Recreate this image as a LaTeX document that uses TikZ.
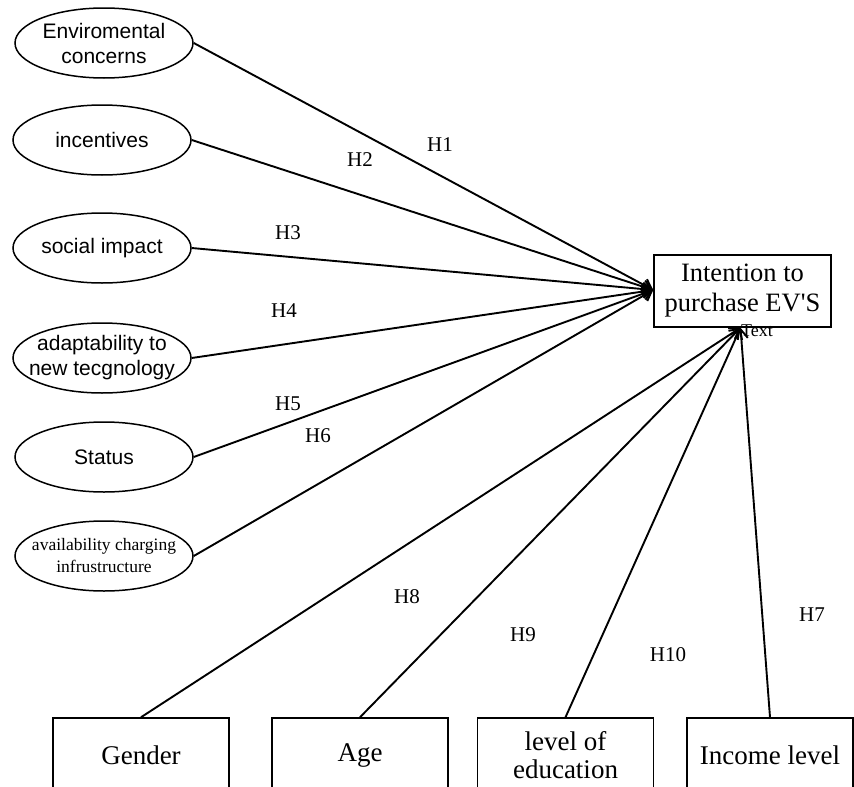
\documentclass[tikz,border=0pt]{standalone}
\usepackage{fontspec}
\setmainfont{Liberation Serif}
\setsansfont{Liberation Sans}
\usetikzlibrary{shapes.geometric,arrows.meta}

% zero-width centred line, so the ellipse keeps its set size
\newcommand{\zline}[1]{\makebox[0pt][c]{#1}}

\tikzset{
  construct/.style={draw, ellipse, line width=1.5pt, minimum width=178pt, minimum height=70pt,
    inner sep=0pt, align=center, font=\sffamily\fontsize{21}{25}\selectfont},
  varbox/.style={draw, rectangle, line width=1.5pt, minimum width=176pt, minimum height=74pt,
    inner sep=0pt, align=center, font=\fontsize{27}{28}\selectfont},
  outcome/.style={draw, rectangle, line width=1.5pt, minimum width=177pt, minimum height=72pt,
    inner sep=0pt, align=center, font=\fontsize{26.5}{30}\selectfont},
  hyp/.style={font=\fontsize{21}{21}\selectfont, inner sep=0pt},
  path/.style={line width=1.9pt, -{Straight Barb[length=9pt,width=13pt,line width=1.9pt]}}
}

\begin{document}
\begin{tikzpicture}[x=1pt, y=-1pt]
\useasboundingbox (0,0) rectangle (854,787);
\fill[white] (0,0) rectangle (854,787);
\clip (0,0) rectangle (854,787);

% outcome construct
\node[outcome] (t) at (742.5,291) {Intention to\\purchase EV\textquotesingle S};
\node[font=\fontsize{18}{18}\selectfont, inner sep=0pt] (txt) at (757,331) {Text};

% predictors
\node[construct] (env) at (104,43) {\zline{Enviromental}\\\zline{concerns}};
\node[construct] (inc) at (102,140) {incentives};
\node[construct] (soc) at (102,248) {social impact};
\node[construct] (ada) at (102,358) {\zline{adaptability to}\\\zline{new tecgnology}};
\node[construct] (sta) at (104,457) {Status};
\node[construct, font=\fontsize{17.5}{22}\selectfont] (ava) at (104,556)
  {\zline{availability charging}\\\zline{infrustructure}};

% demographic variables
\node[varbox] (gen) at (141,755) {Gender};
\node[varbox] (age) at (360,755) {Age};
\node[varbox] (edu) at (565.5,755) {level of\\education};
\node[varbox, minimum width=166pt] (incl) at (770,755) {Income level};

% hypothesised paths
\coordinate (tin) at ([yshift=1pt]t.west);
\coordinate (tbot) at ([xshift=-2pt]t.south);
\draw[path] (env.east) -- (tin);
\draw[path] (inc.east) -- (tin);
\draw[path] (soc.east) -- (tin);
\draw[path] (ada.east) -- (tin);
\draw[path] (sta.east) -- (tin);
\draw[path] (ava.east) -- (tin);
\draw[path] (gen.north) -- (tbot);
\draw[path] (age.north) -- (tbot);
\draw[path] (edu.north) -- (tbot);
\draw[path] (incl.north) -- (tbot);

% path labels
\node[hyp] (h1) at (440,145) {H1};
\node[hyp] (h2) at (360,160) {H2};
\node[hyp] (h3) at (288,233) {H3};
\node[hyp] (h4) at (284,311) {H4};
\node[hyp] (h5) at (288,404) {H5};
\node[hyp] (h6) at (318,436) {H6};
\node[hyp] (h8) at (407,597) {H8};
\node[hyp] (h9) at (523,635) {H9};
\node[hyp] (h10) at (668,655) {H10};
\node[hyp] (h7) at (812,615) {H7};
\end{tikzpicture}
\end{document}
